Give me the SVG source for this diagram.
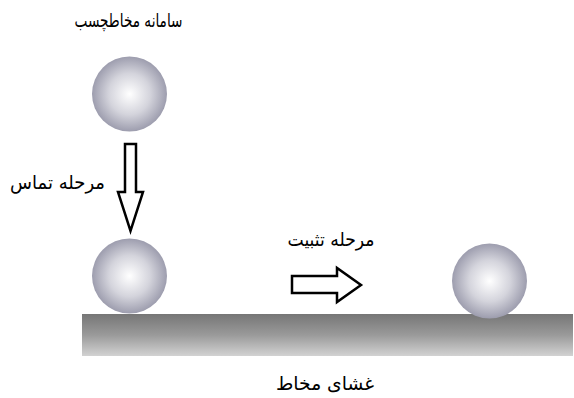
<svg xmlns="http://www.w3.org/2000/svg" width="574" height="398" viewBox="0 0 574 398">
<style>
.lbl{font-family:"DejaVu Sans","Noto Sans",sans-serif;font-size:19px;fill:#000;text-anchor:middle}
.arr{fill:#fff;stroke:#000;stroke-width:2.5;stroke-linejoin:miter}
</style>
<defs>
<radialGradient id="sph" cx="0.5" cy="0.5" r="0.5">
<stop offset="0" stop-color="#ffffff"/>
<stop offset="0.55" stop-color="#d4d4dc"/>
<stop offset="1" stop-color="#9d9dae"/>
</radialGradient>
<linearGradient id="sub" x1="0" y1="0" x2="0" y2="1">
<stop offset="0" stop-color="#767676"/>
<stop offset="0.5" stop-color="#9a9a9a"/>
<stop offset="1" stop-color="#d2d2d2"/>
</linearGradient>
</defs>
<g id="substrate"><rect x="82" y="314" width="491" height="42" fill="url(#sub)"/></g>
<g id="sphere1"><circle cx="129.5" cy="94" r="37.5" fill="url(#sph)"/></g>
<g id="sphere2"><circle cx="129.5" cy="276" r="37.5" fill="url(#sph)"/></g>
<g id="sphere3"><circle cx="489.5" cy="281" r="37.5" fill="url(#sph)"/></g>
<g id="connectors">
<path class="arr" d="M125,144 H136 V192 H143 L130.5,231 L118,192 H125 Z"/>
<path class="arr" d="M292,276 H337 V268 L361,285 L337,302 V293 H292 Z"/>
</g>
<g id="labels">
<text class="lbl" x="128.5" y="27" direction="rtl" font-size="18" textLength="108" lengthAdjust="spacingAndGlyphs">سامانه مخاطچسب</text>
<text class="lbl" x="57.5" y="189" direction="rtl" textLength="95" lengthAdjust="spacingAndGlyphs">مرحله تماس</text>
<text class="lbl" x="331" y="246" direction="rtl" textLength="87" lengthAdjust="spacingAndGlyphs">مرحله تثبیت</text>
<text class="lbl" x="325" y="390" direction="rtl" textLength="98" lengthAdjust="spacingAndGlyphs">غشای مخاط</text>
</g>
</svg>
